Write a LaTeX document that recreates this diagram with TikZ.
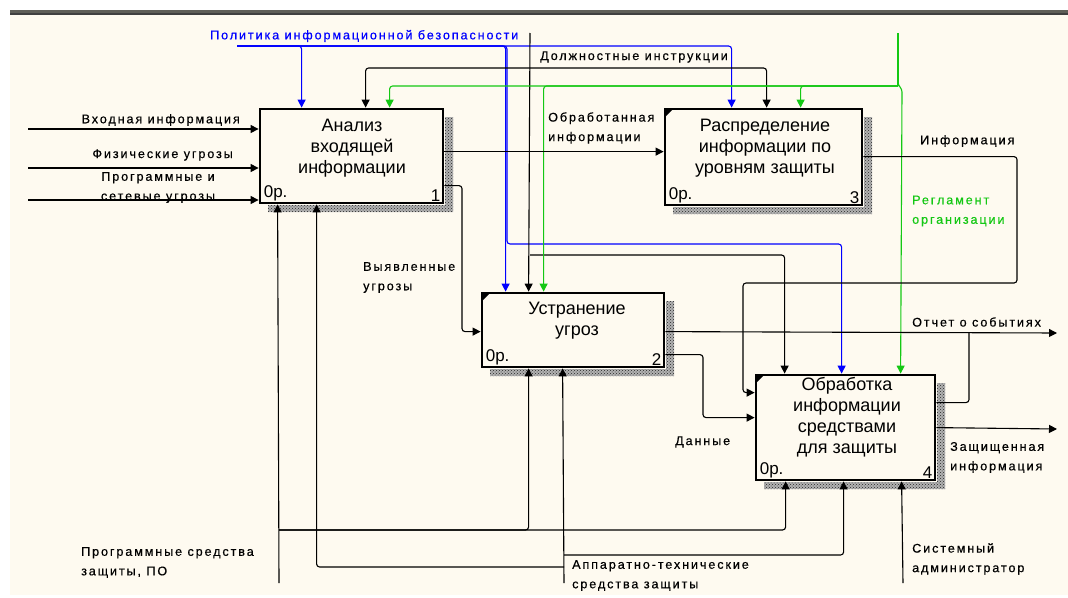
\documentclass[tikz,border=0pt]{standalone}
\usepackage{fontspec}
\setmainfont{Liberation Sans}
\newfontfamily\lblfont[LetterSpace=15,FakeBold=0.5]{Liberation Sans}
\usetikzlibrary{arrows.meta,patterns}
\definecolor{cream}{RGB}{254,250,240}
\definecolor{idblue}{RGB}{0,0,255}
\definecolor{idgreen}{RGB}{20,200,20}
\definecolor{bar}{RGB}{95,95,88}
\tikzset{
  fnbox/.style={draw=black,line width=2.8pt,fill=cream,minimum width=#1,inner sep=0pt},
  arr/.style={line width=1.1pt,rounded corners=3pt,-{Triangle[length=8pt,width=8pt]}},
  ln/.style={line width=1.1pt,rounded corners=3pt},
  lab/.style={font=\lblfont\fontsize{12.6}{19.5}\selectfont,inner sep=0pt,align=left},
  btxt/.style={font=\fontsize{18}{21}\selectfont,inner sep=0pt,align=center},
  ctxt/.style={font=\fontsize{17}{18}\selectfont,inner sep=0pt},
  shade/.style={fill=black!30,draw=none},
  shadedots/.style={pattern=crosshatch dots,pattern color=black!85,draw=none},
}
\begin{document}
\begin{tikzpicture}[x=1pt,y=-1pt]
% background
\fill[white] (0,0) rectangle (1068,597);
\fill[cream] (10,15) rectangle (1068,595);
\fill[bar] (10,10) rectangle (1068,15);
\fill[black!75] (10,13) rectangle (1068,15);
\useasboundingbox (0,0) rectangle (1068,597);

% shadows
\foreach \s in {shade,shadedots}{
\path[\s] (445,117) rectangle (453,212) (268,205) rectangle (453,212);
\path[\s] (864,117) rectangle (872,214) (673,207) rectangle (872,214);
\path[\s] (666,301) rectangle (674,376) (490,369) rectangle (674,376);
\path[\s] (937,383) rectangle (945,489) (764,482) rectangle (945,489);
}

% boxes
\node[fnbox=183pt,minimum height=94pt] (B1) at (351.5,156) {};
\node[fnbox=197pt,minimum height=96pt] (B3) at (763.5,157) {};
\node[fnbox=182pt,minimum height=74pt] (B2) at (573,330) {};
\node[fnbox=179pt,minimum height=105pt] (B4) at (845.5,427.5) {};

% corner marks
\foreach \b in {B2,B3,B4}{
  \fill ([xshift=1pt,yshift=-1pt]\b.north west) -- ([xshift=10pt,yshift=-1pt]\b.north west) -- ([xshift=1pt,yshift=-10pt]\b.north west) -- cycle;
}

% box texts
\node[btxt] (t1) at (352,148) {Анализ\\входящей\\информации};
\node[btxt] (t3) at (765,148) {Распределение\\информации по\\уровням защиты};
\node[btxt] (t2) at (577,321) {Устранение\\угроз};
\node[btxt] (t4) at (847,417.5) {Обработка\\информации\\средствами\\для защиты};
\foreach \b/\n in {B1/1,B2/2,B3/3,B4/4}{
  \node[ctxt,anchor=south west] at ([xshift=5pt,yshift=3pt]\b.south west) {0р.};
  \node[ctxt,anchor=south east] at ([xshift=-4pt,yshift=3pt]\b.south east) {\n};
}

% source / sink coordinates
\coordinate (polS) at (237,46);
\coordinate (dolS) at (530,33);
\coordinate (regS) at (898,33);
\coordinate (in1) at (28,129);
\coordinate (in2) at (28,168);
\coordinate (in3) at (28,200);
\coordinate (progS) at (279,583);
\coordinate (appS) at (564,583);
\coordinate (sysS) at (903,583);
\coordinate (otE) at (1057,333);
\coordinate (zaE) at (1057,429);

% blue: policy
\begin{scope}[idblue]
\draw[arr] (polS) -| ([xshift=43pt]B1.north west);
\draw[arr] (polS) -| ([xshift=68pt]B3.north west);
\draw[arr] (polS) -| ([xshift=25pt]B2.north west);
\coordinate (blJ) at (507,244);
\draw[arr] (polS) -| (blJ) -| ([xshift=87pt]B4.north west);
\end{scope}

% black: instructions
\draw[arr] (dolS) -- ([xshift=48pt]B2.north west);
\coordinate (dJ1) at (530,68);
\draw[arr] (dJ1) -| ([xshift=107pt]B1.north west);
\draw[arr] (dJ1) -| ([xshift=103pt]B3.north west);
\coordinate (dJ2) at (530,255);
\draw[arr] (dJ2) -| ([xshift=30pt]B4.north west);

% green: regulations
\begin{scope}[idgreen]
\coordinate (gJ) at (898,86);
\draw[ln] (regS) -- (gJ);
\draw[arr] (gJ) -| ([xshift=131pt]B1.north west);
\draw[arr] (gJ) -| ([xshift=63pt]B2.north west);
\draw[arr] (gJ) -| ([xshift=137pt]B3.north west);
\draw[line width=1.1pt,-{Triangle[length=8pt,width=8pt]}] ([yshift=4pt]gJ) to[out=-90,in=90] ([xshift=4pt,yshift=-6pt]gJ) -- ([xshift=146pt]B4.north west);
\end{scope}

% inputs of box 1
\draw[arr] (in1) -- (in1 -| B1.west);
\draw[arr] (in2) -- (in2 -| B1.west);
\draw[arr] (in3) -- (in3 -| B1.west);

% internal flows
\draw[arr] ([yshift=-44pt]B1.north east) -- ([yshift=-44pt]B3.north west);
\coordinate (infC) at (1017,283);
\coordinate (infD) at (743,283);
\draw[arr] ([yshift=-49pt]B3.north east) -| (infC) -- (infD) |- ([yshift=-19pt]B4.north west);
\coordinate (vyJ) at (462,260);
\draw[arr] ([yshift=-78pt]B1.north east) -| (vyJ) |- ([yshift=-40pt]B2.north west);
\draw[arr] ([yshift=-40pt]B2.north east) -- (otE);
\coordinate (otJ) at (969,333);
\draw[ln] ([yshift=-29pt]B4.north east) -| (otJ);
\coordinate (daJ) at (703,390);
\draw[arr] ([yshift=-63pt]B2.north east) -| (daJ) |- ([yshift=-44pt]B4.north west);
\draw[arr] ([yshift=-54pt]B4.north east) -- (zaE);

% mechanisms
\draw[arr] (progS) -- ([xshift=19pt]B1.south west);
\coordinate (prJ) at (279,530);
\draw[arr] (prJ) -| ([xshift=31pt]B4.south west);
\draw[arr] (prJ) -| ([xshift=48pt]B2.south west);
\draw[arr] (appS) -- ([xshift=82pt]B2.south west);
\coordinate (apJ1) at (564,555);
\draw[arr] (apJ1) -| ([xshift=89pt]B4.south west);
\coordinate (apJ2) at (564,567);
\draw[arr] (apJ2) -| ([xshift=58pt]B1.south west);
\draw[arr] (sysS) -- ([xshift=147pt]B4.south west);

% labels
\node[lab,text=idblue,anchor=west] (Lpol) at (210,36) {Политика информационной безопасности};
\node[lab,anchor=west] (Ldol) at (540,57) {Должностные инструкции};
\node[lab,anchor=east] (Lin1) at (240,120) {Входная информация};
\node[lab,anchor=east] (Lin2) at (233,155) {Физические угрозы};
\node[lab,align=center] (Lin3) at (158,187.5) {Программные и\\сетевые угрозы};
\node[lab,anchor=west] (Lobr) at (548,128) {Обработанная\\информации};
\node[lab,anchor=west] (Linf) at (920,141) {Информация};
\node[lab,anchor=west,text=idgreen] (Lreg) at (912,211) {Регламент\\организации};
\node[lab,anchor=west] (Lvy) at (363,277.5) {Выявленные\\угрозы};
\node[lab,anchor=west] (Lot) at (912,322) {Отчет о событиях};
\node[lab,anchor=west] (Lda) at (675,442) {Данные};
\node[lab,anchor=west] (Lza) at (950,457.5) {Защищенная\\информация};
\node[lab,anchor=west] (Lpr) at (81,562.5) {Программные средства\\защиты, ПО};
\node[lab,anchor=west] (Lap) at (572,575.5) {Аппаратно-технические\\средства защиты};
\node[lab,anchor=west] (Lsys) at (912,559) {Системный\\администратор};
\end{tikzpicture}
\end{document}
